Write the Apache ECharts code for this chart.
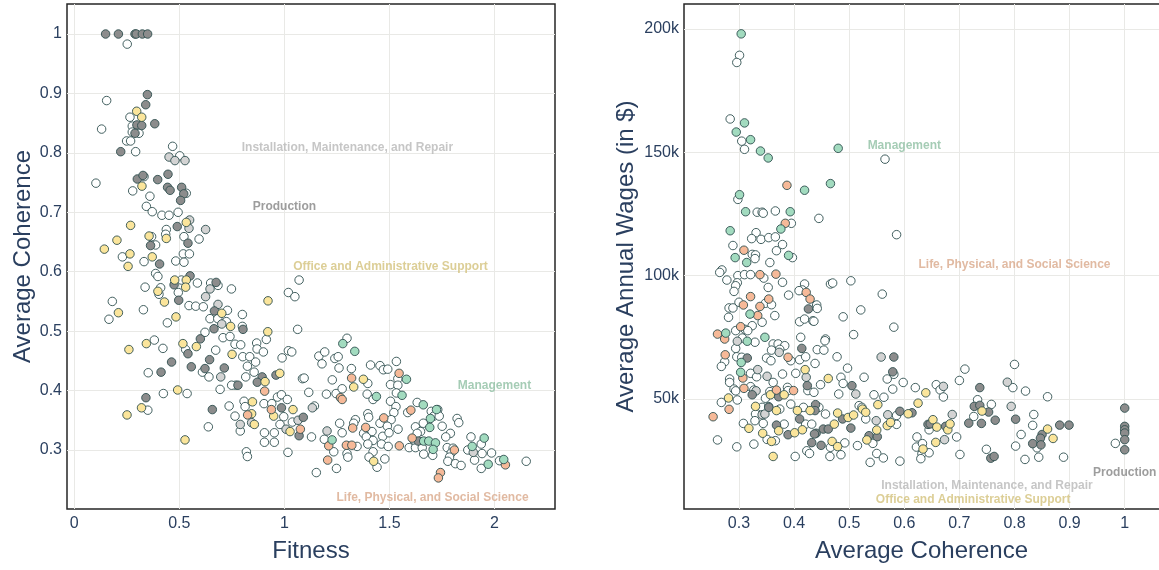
<!DOCTYPE html>
<html><head><meta charset="utf-8">
<script src="https://cdn.jsdelivr.net/npm/echarts@6/dist/echarts.min.js"></script>
<style>html,body{margin:0;padding:0;background:#fff}#c{width:1159px;height:570px}</style>
</head><body><div id="c"></div>
<script>
// ---------- LEFT PANEL: [fitness, average coherence] ----------
const leftOther = [[0.252,0.983],[0.154,0.888],[0.265,0.86],[0.276,0.845],[0.13,0.84],[0.276,0.835],[0.308,0.833],[0.249,0.82],[0.268,0.82],[0.292,0.802],[0.468,0.811],[0.502,0.795],[0.103,0.749],[0.332,0.76],[0.278,0.736],[0.533,0.732],[0.36,0.727],[0.343,0.71],[0.371,0.701],[0.417,0.695],[0.451,0.695],[0.494,0.70],[0.438,0.671],[0.435,0.663],[0.368,0.659],[0.522,0.659],[0.594,0.655],[0.387,0.645],[0.519,0.63],[0.548,0.63],
[0.229,0.625],[0.332,0.617],[0.483,0.618],[0.522,0.616],[0.387,0.597],[0.398,0.592],[0.51,0.586],[0.586,0.581],[0.649,0.581],[0.684,0.577],[0.748,0.571],[0.337,0.574],[0.411,0.573],[0.495,0.565],[0.403,0.562],[0.181,0.55],[0.165,0.52],[0.329,0.536],[0.546,0.543],[0.578,0.542],[0.614,0.541],[0.729,0.535],[0.646,0.521],[0.683,0.521],[0.724,0.516],[0.8,0.528],[0.8,0.508],[0.443,0.514],[1.019,0.565],[1.05,0.558],[1.07,0.586],[1.063,0.503],[0.622,0.498],[0.708,0.489],[0.741,0.491],[0.765,0.478],[0.792,0.477],[0.868,0.48],[0.914,0.486],[0.87,0.47],[0.9,0.465],[0.673,0.468],[0.381,0.485],[0.422,0.471],[0.53,0.469],[0.802,0.457],[0.835,0.457],[0.863,0.448],[0.824,0.441],[0.989,0.455],[1.019,0.467],[1.035,0.465],[0.61,0.431],[0.641,0.423],[0.816,0.423],[0.856,0.431],[0.352,0.43],[0.768,0.409],[0.749,0.409],[0.694,0.402],[1.086,0.42],[0.537,0.395],[0.424,0.395],[0.35,0.367],[0.638,0.339],[0.737,0.374],[0.808,0.382],[0.813,0.373],[0.765,0.357],[0.79,0.332],[0.903,0.378],[0.94,0.378],[0.967,0.389],[0.986,0.393],[1.014,0.385],[0.997,0.356],[0.979,0.343],[1.038,0.347],[0.905,0.329],[0.952,0.329],[0.905,0.313],[0.952,0.313],[0.819,0.297],[0.824,0.289],[1.017,0.296],
[1.298,0.488],[1.164,0.458],[1.192,0.465],[1.179,0.445],[1.24,0.454],[1.256,0.457],[1.26,0.438],[1.319,0.437],[1.41,0.443],[1.455,0.442],[1.471,0.435],[1.492,0.436],[1.533,0.449],[1.54,0.42],[1.505,0.41],[1.54,0.409],[1.094,0.421],[1.228,0.418],[1.397,0.412],[1.116,0.397],[1.2,0.394],[1.246,0.395],[1.275,0.403],[1.394,0.394],[1.422,0.385],[1.533,0.396],[1.505,0.382],[1.531,0.373],[1.521,0.363],[1.632,0.38],[1.587,0.363],[1.699,0.365],[1.73,0.368],[1.711,0.357],[1.737,0.357],[1.822,0.353],[1.83,0.346],[1.751,0.34],[1.661,0.345],[1.624,0.339],[1.648,0.331],[1.79,0.328],[1.768,0.322],[1.397,0.361],[1.401,0.355],[1.508,0.351],[1.455,0.345],[1.49,0.34],[1.541,0.335],[1.338,0.351],[1.33,0.345],[1.417,0.331],[1.377,0.328],[1.263,0.345],[1.275,0.329],[1.19,0.318],[1.235,0.297],[1.346,0.306],[1.39,0.322],[1.422,0.316],[1.397,0.31],[1.298,0.294],[1.302,0.288],[1.468,0.323],[1.498,0.329],[1.462,0.31],[1.494,0.306],[1.422,0.297],[1.403,0.288],[1.441,0.271],[1.478,0.285],[1.248,0.269],[1.152,0.262],[1.594,0.304],[1.624,0.304],[1.616,0.317],[1.632,0.328],[1.656,0.304],[1.663,0.293],[1.706,0.291],[1.775,0.304],[1.803,0.303],[1.794,0.295],[1.786,0.288],[1.778,0.281],[1.814,0.277],[1.841,0.274],[1.888,0.322],[1.937,0.31],[1.873,0.3],[1.941,0.294],[1.986,0.295],[1.905,0.283],[1.937,0.269],[2.024,0.282],[2.151,0.281],[1.143,0.374],[1.129,0.322]];
const leftProduction = [[0.149,1.0],[0.21,1.0],[0.289,1.0],[0.295,1.0],[0.324,1.0],[0.349,1.0],[0.348,0.898],[0.34,0.881],[0.298,0.847],[0.321,0.846],[0.383,0.849],[0.289,0.833],[0.221,0.802],[0.3,0.756],[0.327,0.762],[0.397,0.755],[0.446,0.764],[0.444,0.742],[0.456,0.737],[0.511,0.742],[0.521,0.731],[0.506,0.72],[0.49,0.676],[0.541,0.648],[0.363,0.644],[0.406,0.613],[0.551,0.593],[0.475,0.578],[0.675,0.582],[0.497,0.552],[0.667,0.534],[0.803,0.503],[0.665,0.504],[0.6,0.487],[0.541,0.462],[0.644,0.452],[0.463,0.448],[0.557,0.44],[0.622,0.437],[0.714,0.438],[0.894,0.423],[0.871,0.414],[0.96,0.426],[0.413,0.431],[0.779,0.409],[0.341,0.388],[0.657,0.368],[0.986,0.371],[1.07,0.324],[1.09,0.355],[1.637,0.315]];
const leftInstall = [[0.451,0.793],[0.479,0.787],[0.527,0.787],[0.549,0.687],[0.546,0.673],[0.625,0.671],[0.646,0.571],[0.625,0.558],[0.684,0.545],[0.702,0.512],[0.697,0.423],[0.844,0.346],[0.79,0.343],[1.008,0.335],[1.065,0.35],[1.133,0.371],[1.203,0.332],[1.899,0.296]];
const leftOffice = [[0.297,0.87],[0.321,0.86],[0.322,0.744],[0.533,0.683],[0.268,0.678],[0.203,0.653],[0.356,0.66],[0.438,0.656],[0.143,0.638],[0.265,0.63],[0.371,0.625],[0.256,0.609],[0.478,0.586],[0.533,0.586],[0.53,0.574],[0.398,0.567],[0.429,0.549],[0.21,0.531],[0.702,0.53],[0.484,0.524],[0.744,0.508],[0.922,0.551],[0.921,0.499],[0.343,0.479],[0.26,0.469],[0.517,0.479],[0.581,0.474],[0.751,0.461],[0.908,0.415],[0.978,0.429],[0.492,0.401],[0.32,0.371],[0.251,0.359],[0.527,0.317],[0.848,0.381],[0.844,0.361],[0.857,0.343],[1.041,0.368],[0.949,0.357],[1.027,0.331],[1.376,0.419],[1.33,0.406],[1.425,0.281]];
const leftManagement = [[1.278,0.479],[1.335,0.466],[1.581,0.419],[1.438,0.39],[1.56,0.392],[1.661,0.376],[1.724,0.368],[1.695,0.353],[1.692,0.338],[1.227,0.317],[1.663,0.315],[1.687,0.315],[1.719,0.312],[1.708,0.301],[1.951,0.32],[1.894,0.306],[1.97,0.276],[2.044,0.284]];
const leftLife = [[0.906,0.399],[0.825,0.359],[0.938,0.368],[1.076,0.335],[1.546,0.429],[1.32,0.421],[1.267,0.388],[1.275,0.385],[1.602,0.367],[1.473,0.354],[1.325,0.337],[1.387,0.338],[1.211,0.307],[1.295,0.308],[1.321,0.308],[1.206,0.283],[1.547,0.307],[1.608,0.32],[1.809,0.3],[2.052,0.275],[1.743,0.262],[1.733,0.253]];

// ---------- RIGHT PANEL: [average coherence, average annual wage in $1000s] ----------
const rightOther = [[0.301,189.3],[0.296,186.4],[0.284,163.5],[0.305,154.5],[0.31,151.2],[0.565,147.2],[0.298,130.9],[0.333,125.7],[0.342,125.7],[0.344,125.3],[0.366,126.2],[0.445,123.2],[0.395,121.2],[0.586,116.6],[0.331,117.4],[0.323,115.0],[0.34,114.7],[0.354,115.4],[0.366,115.7],[0.379,112.6],[0.289,112.2],[0.368,110.1],[0.324,108.6],[0.33,108.4],[0.329,106.9],[0.397,107.3],[0.356,105.3],[0.269,102.3],
[0.265,101.3],[0.278,98.2],[0.298,100.0],[0.31,100.4],[0.321,100.4],[0.345,99.0],[0.379,97.3],[0.297,97.1],[0.294,95.9],[0.291,93.6],[0.353,95.2],[0.39,92.1],[0.419,96.6],[0.415,94.2],[0.409,93.9],[0.441,88.1],[0.466,96.6],[0.47,97.0],[0.503,97.9],[0.56,92.5],[0.3,89.2],[0.348,88.8],[0.359,88.2],[0.282,86.9],[0.289,86.9],[0.281,83.1],[0.342,81.1],[0.324,79.7],[0.365,83.8],[0.442,86.7],[0.41,81.3],[0.419,82.4],[0.434,81.7],[0.436,81.5],[0.489,83.3],[0.521,86.1],[0.508,76.1],[0.457,74.3],[0.456,73.6],[0.442,70.0],[0.454,69.8],[0.412,75.0],[0.478,67.1],[0.294,77.7],[0.311,78.2],[0.316,77.7],[0.306,74.7],[0.329,73.0],[0.294,70.5],[0.362,72.3],[0.371,72.3],[0.383,71.6],[0.359,69.8],[0.374,70.1],[0.296,67.1],[0.305,66.9],[0.274,65.1],[0.268,63.2],[0.35,66.6],[0.358,65.5],[0.394,65.5],[0.41,65.9],[0.421,67.1],[0.438,64.4],[0.497,62.5],[0.527,58.8],[0.283,58.1],[0.283,56.7],[0.291,54.0],[0.294,53.3],[0.321,60.4],[0.332,59.0],[0.362,56.7],[0.379,60.1],[0.403,60.4],[0.425,53.4],[0.436,52.7],[0.448,55.8],[0.485,58.8],[0.489,56.3],[0.481,52.0],[0.321,55.0],[0.327,53.6],[0.297,49.6],[0.356,53.0],[0.348,50.3],[0.388,54.7],[0.389,53.4],[0.268,48.6],[0.261,33.4],[0.296,30.6],[0.327,31.7],[0.342,46.6],[0.354,46.9],[0.33,43.9],[0.329,41.2],[0.374,45.9],[0.394,47.9],[0.417,46.6],[0.445,46.6],[0.457,43.9],[0.421,39.8],[0.432,39.8],[0.344,40.1],[0.308,40.1],[0.351,33.6],[0.366,33.1],[0.382,39.8],[0.402,26.7],[0.423,29.0],[0.428,27.9],[0.465,26.7],[0.466,30.4],[0.492,32.2],[0.485,27.4],[0.515,31.1],[0.518,47.3],[0.523,46.6],[0.53,41.9],[0.545,51.7],[0.563,50.7],[0.543,32.0],[0.55,27.9],[0.538,24.3],[0.562,26.1],[0.569,58.1],
[0.581,79.1],[0.581,60.0],[0.579,54.0],[0.598,56.7],[0.62,54.6],[0.658,55.8],[0.665,53.7],[0.671,50.8],[0.71,62.1],[0.7,57.5],[0.586,43.3],[0.586,39.7],[0.645,37.5],[0.695,34.6],[0.623,34.6],[0.622,30.5],[0.633,31.9],[0.632,27.8],[0.63,25.8],[0.645,28.2],[0.592,24.8],[0.701,27.5],[0.733,49.7],[0.758,47.8],[0.726,42.9],[0.749,29.6],[0.8,64.0],[0.797,54.6],[0.82,53.2],[0.835,43.7],[0.833,39.3],[0.812,35.6],[0.802,30.9],[0.841,30.2],[0.819,25.5],[0.844,26.4],[0.86,50.9],[0.889,26.4],[0.983,32.0]];
const rightProduction = [[0.426,86.5],[0.414,70.5],[0.315,66.6],[0.424,55.4],[0.505,55.4],[0.324,51.7],[0.372,50.9],[0.354,46.6],[0.439,47.7],[0.438,45.3],[0.41,41.9],[0.44,36.1],[0.368,39.4],[0.389,35.5],[0.432,32.3],[0.449,31.2],[0.437,35.8],[0.453,37.8],[0.462,37.8],[0.488,41.9],[0.503,38.2],[0.536,35.1],[0.551,34.7],[0.581,67.0],[0.579,61.0],[0.614,44.4],[0.592,45.0],[0.643,39.7],[0.647,39.9],[0.675,38.9],[0.737,54.6],[0.727,47.0],[0.737,47.4],[0.753,44.7],[0.717,40.2],[0.74,40.1],[0.765,41.4],[0.757,26.0],[0.763,26.7],[0.802,41.8],[0.85,35.6],[0.847,34.1],[0.833,31.9],[0.848,31.4],[0.882,39.4],[0.899,39.4],[1.0,46.3],[1.0,38.9],[1.0,37.5],[1.0,36.2],[1.0,33.5],[1.0,29.4]];
const rightInstall = [[0.297,73.4],[0.373,68.9],[0.334,61.9],[0.351,59.2],[0.422,58.8],[0.331,53.3],[0.342,43.6],[0.347,43.9],[0.512,52.0],[0.549,41.2],[0.57,43.6],[0.558,67.0],[0.671,55.1],[0.687,43.7],[0.673,33.5],[0.787,56.8],[0.794,47.0]];
const rightOffice = [[0.42,61.9],[0.462,58.3],[0.357,51.7],[0.382,51.7],[0.281,50.4],[0.33,47.0],[0.368,45.3],[0.406,45.3],[0.429,45.3],[0.318,38.1],[0.343,36.1],[0.359,32.8],[0.372,37.1],[0.401,36.3],[0.415,37.5],[0.362,26.7],[0.473,39.8],[0.479,44.3],[0.498,42.5],[0.508,43.5],[0.469,32.8],[0.479,30.7],[0.524,45.9],[0.53,44.6],[0.552,47.7],[0.55,37.4],[0.532,33.4],[0.569,39.2],[0.575,40.5],[0.639,52.5],[0.625,48.3],[0.607,44.0],[0.652,41.6],[0.659,38.6],[0.679,37.5],[0.683,39.9],[0.657,32.4],[0.634,29.7],[0.741,45.1],[0.86,37.8],[0.87,34.0]];
const rightManagement = [[0.304,198.0],[0.31,161.9],[0.295,158.2],[0.321,155.1],[0.339,150.5],[0.353,147.7],[0.48,151.6],[0.419,134.6],[0.466,137.3],[0.301,132.8],[0.312,125.9],[0.393,125.9],[0.376,118.9],[0.284,118.2],[0.293,107.3],[0.314,105.3],[0.39,108.2],[0.32,84.4],[0.276,76.7],[0.347,75.0],[0.315,73.4],[0.304,64.8],[0.303,60.8]];
const rightLife = [[0.387,136.6],[0.384,121.2],[0.309,110.3],[0.338,100.4],[0.367,100.6],[0.422,93.2],[0.429,90.5],[0.321,91.5],[0.308,88.1],[0.338,87.5],[0.354,90.5],[0.334,83.8],[0.303,79.3],[0.261,76.3],[0.274,74.3],[0.275,67.9],[0.389,66.9],[0.307,58.5],[0.309,54.3],[0.368,53.6],[0.399,53.4],[0.282,45.8],[0.253,42.8]];

// ---------- tick labels ----------
const leftXTicks = [0, 0.5, 1, 1.5, 2];
const leftYTicks = [0.3, 0.4, 0.5, 0.6, 0.7, 0.8, 0.9, 1];
const rightXTicks = [0.3, 0.4, 0.5, 0.6, 0.7, 0.8, 0.9, 1];
const rightYTicks = [50, 100, 150, 200];

// ---------- annotation labels: [text, x, y, category] ----------
const leftNotes = [["Installation, Maintenance, and Repair",1.3,0.808,"install"],["Production",1.0,0.709,"production"],["Office and Administrative Support",1.505,0.608,"office"],["Management",2.0,0.409,"management"],["Life, Physical, and Social Science",1.705,0.219,"life"]];
const rightNotes = [["Management",0.6,152.8,"management"],["Life, Physical, and Social Science",0.8,104.6,"life"],["Production",1.0,20.0,"production"],["Installation, Maintenance, and Repair",0.75,14.8,"install"],["Office and Administrative Support",0.725,9.0,"office"]];

const fill = {other:'#ffffff', production:'#8c8c8c', install:'#d3d3d3', office:'#fbe59b', management:'#a2dbbf', life:'#f6b998'};
const textCol = {production:'#858585', install:'#b8b8b8', office:'#d3c27c', management:'#8fbfa3', life:'#daa98b'};
const navy = '#2a3f5f';
const FONT = '"Liberation Sans", Arial, sans-serif';

function pts(data, cat, idx){
  return {type:'scatter', xAxisIndex:idx, yAxisIndex:idx, data:data, symbol:'circle', symbolSize:8.5,
    itemStyle:{color:fill[cat], borderColor:'#2f4f4f', borderWidth:0.9, opacity:1}, silent:true, animation:false, z:2};
}
function notes(list, idx){
  return {type:'scatter', xAxisIndex:idx, yAxisIndex:idx, symbolSize:1, silent:true, animation:false, z:5,
    itemStyle:{color:'transparent'},
    data:list.map(n=>({name:n[0], value:[n[1],n[2]], label:{color:textCol[n[3]]}})),
    label:{show:true, position:'inside', formatter:'{b}', fontSize:12, fontWeight:'bold', fontFamily:FONT}};
}
function axisX(idx, min, max, ticks, name, shift){
  return {gridIndex:idx, type:'value', min:min, max:max, name:name, nameLocation:'middle', nameGap:30,
    nameMoveOverlap:false,
    nameTextStyle:{fontSize:24, color:navy, fontFamily:FONT, padding:[0, shift, 0, 0]},
    axisLine:{show:false}, axisTick:{show:false, customValues:ticks},
    axisLabel:{customValues:ticks, color:navy, fontSize:16, fontFamily:FONT, margin:7},
    splitLine:{show:true, lineStyle:{color:'#e9e9e6', width:1}}};
}
function axisY(idx, min, max, ticks, name, gap, fmt){
  return {gridIndex:idx, type:'value', min:min, max:max, name:name, nameLocation:'middle', nameGap:gap,
    nameMoveOverlap:false,
    nameTextStyle:{fontSize:24, color:navy, fontFamily:FONT},
    axisLine:{show:false}, axisTick:{show:false, customValues:ticks},
    axisLabel:{customValues:ticks, color:navy, fontSize:16, fontFamily:FONT, margin:5, formatter:fmt},
    splitLine:{show:true, lineStyle:{color:'#e9e9e6', width:1}}};
}

const chart = echarts.init(document.getElementById('c'), null, {renderer:'canvas'});
chart.setOption({
  backgroundColor:'#ffffff',
  animation:false,
  grid:[
    {left:67, top:4, width:488, height:505, show:true, borderColor:'#262626', borderWidth:1.5, backgroundColor:'transparent', containLabel:false, outerBoundsMode:'none'},
    {left:684, top:4, width:493, height:505, show:true, borderColor:'#262626', borderWidth:1.5, backgroundColor:'transparent', containLabel:false, outerBoundsMode:'none'}
  ],
  xAxis:[axisX(0,-0.0347,2.288,leftXTicks,'Fitness',0), axisX(1,0.2002,1.0949,rightXTicks,'Average Coherence',18)],
  yAxis:[axisY(0,0.2007,1.0505,leftYTicks,'Average Coherence',32,v=>String(v)),
         axisY(1,5.4,210.1,rightYTicks,'Average Annual Wages (in $)',46,v=>v+'k')],
  series:[
    pts(leftOther,'other',0), pts(leftInstall,'install',0), pts(leftProduction,'production',0),
    pts(leftOffice,'office',0), pts(leftLife,'life',0), pts(leftManagement,'management',0),
    pts(rightOther,'other',1), pts(rightInstall,'install',1), pts(rightProduction,'production',1),
    pts(rightOffice,'office',1), pts(rightLife,'life',1), pts(rightManagement,'management',1),
    notes(leftNotes,0), notes(rightNotes,1)
  ]
});
</script></body></html>
